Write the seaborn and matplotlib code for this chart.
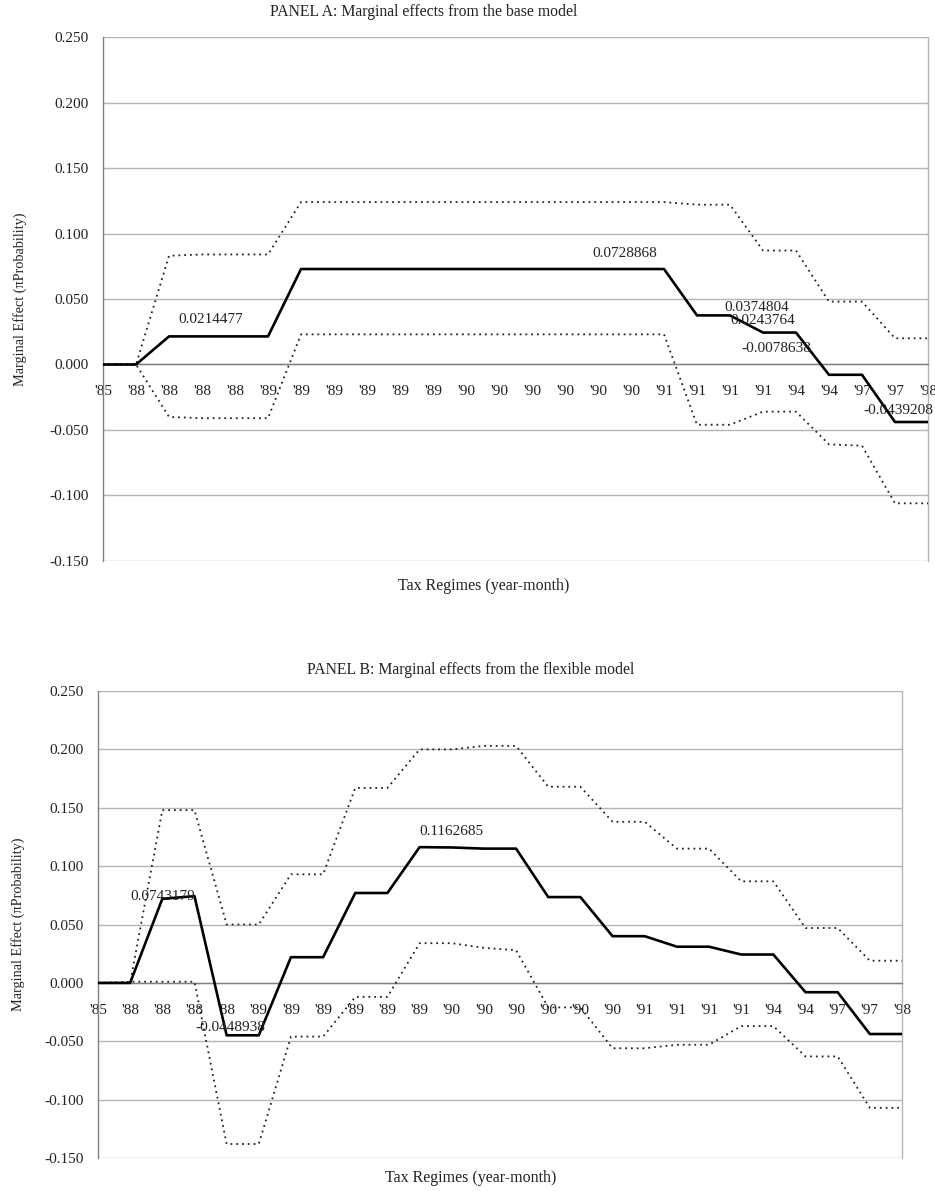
import numpy as np
import pandas as pd
import matplotlib
matplotlib.use("Agg")
import matplotlib.pyplot as plt
import seaborn as sns

sns.set_theme(style="white")
plt.rcParams["font.family"] = ["Liberation Serif", "DejaVu Serif"]

# category labels (tax regimes, year)
regimes = ["'85", "'88", "'88", "'88", "'88", "'89", "'89", "'89", "'89", "'89",
           "'89", "'90", "'90", "'90", "'90", "'90", "'90", "'91", "'91", "'91",
           "'91", "'94", "'94", "'97", "'97", "'98"]

# Panel A: base model
a_effect = [0.0, 0.0, 0.0214477, 0.0214477, 0.0214477, 0.0214477,
            0.0728868, 0.0728868, 0.0728868, 0.0728868, 0.0728868, 0.0728868,
            0.0728868, 0.0728868, 0.0728868, 0.0728868, 0.0728868, 0.0728868,
            0.0374804, 0.0374804, 0.0243764, 0.0243764, -0.0078638, -0.0078638,
            -0.0439208, -0.0439208]
a_upper = [0.0, 0.0, 0.083, 0.084, 0.084, 0.084,
           0.124, 0.124, 0.124, 0.124, 0.124, 0.124,
           0.124, 0.124, 0.124, 0.124, 0.124, 0.124,
           0.122, 0.122, 0.087, 0.087, 0.048, 0.048, 0.020, 0.020]
a_lower = [0.0, 0.0, -0.040, -0.041, -0.041, -0.041,
           0.023, 0.023, 0.023, 0.023, 0.023, 0.023,
           0.023, 0.023, 0.023, 0.023, 0.023, 0.023,
           -0.046, -0.046, -0.036, -0.036, -0.061, -0.062, -0.106, -0.106]

# Panel B: flexible model
b_effect = [0.0, 0.0, 0.072, 0.0743179, -0.0448938, -0.0449,
            0.022, 0.022, 0.077, 0.077, 0.1162685, 0.116,
            0.115, 0.115, 0.0735, 0.0735, 0.040, 0.040,
            0.031, 0.031, 0.0243, 0.0243, -0.008, -0.008, -0.0438, -0.0438]
b_upper = [0.0, 0.0, 0.148, 0.148, 0.050, 0.050,
           0.093, 0.093, 0.167, 0.167, 0.200, 0.200,
           0.203, 0.203, 0.168, 0.168, 0.138, 0.138,
           0.115, 0.115, 0.087, 0.087, 0.047, 0.047, 0.019, 0.019]
b_lower = [0.0, 0.001, 0.001, 0.001, -0.138, -0.138,
           -0.046, -0.046, -0.012, -0.012, 0.034, 0.034,
           0.030, 0.028, -0.021, -0.021, -0.056, -0.056,
           -0.053, -0.053, -0.037, -0.037, -0.063, -0.063, -0.107, -0.107]

# which points carry a data label, and where the label text sits (layout)
a_labelled = [3, 16, 19, 21, 23, 25]
a_label_pos = [(3.25, 0.034), (15.8, 0.085), (19.8, 0.0435), (20.0, 0.0336),
               (20.4, 0.0122), (24.1, -0.035)]
b_labelled = [3, 4, 10]
b_label_pos = [(2.0, 0.074), (4.1, -0.0386), (11.0, 0.130)]

FS = 11
GRID = "#b4b4b4"


def draw_panel(ax, effect, upper, lower, labelled, label_pos):
    df = pd.DataFrame({"x": np.arange(len(regimes)), "effect": effect,
                       "upper": upper, "lower": lower})
    for col in ["upper", "lower"]:
        sns.lineplot(data=df, x="x", y=col, ax=ax, color="#222222",
                     linewidth=1.3, linestyle=(0, (1, 2.2)), zorder=3)
    sns.lineplot(data=df, x="x", y="effect", ax=ax, color="black",
                 linewidth=1.9, zorder=4)

    for idx, (tx, ty) in zip(labelled, label_pos):
        ax.text(tx, ty, f"{effect[idx]:.7f}", ha="center", va="center",
                fontsize=FS, color="#222222", zorder=5)

    ax.set_xlim(0, len(regimes) - 1)
    ax.set_ylim(-0.15, 0.25)
    ax.set_yticks(np.arange(-0.15, 0.2501, 0.05))
    ax.set_yticklabels([f"{v:.3f}" for v in np.arange(-0.15, 0.2501, 0.05)],
                       fontsize=FS)
    ax.set_xticks(np.arange(len(regimes)))
    ax.set_xticklabels(regimes, fontsize=FS)

    ax.yaxis.grid(True, color=GRID, linewidth=1.0)
    ax.set_axisbelow(True)

    ax.spines["bottom"].set_position(("data", 0))
    ax.spines["bottom"].set_color("#808080")
    ax.spines["left"].set_color("#808080")
    ax.spines["right"].set_color(GRID)
    ax.spines["top"].set_visible(False)
    for s in ax.spines.values():
        s.set_linewidth(1.0)

    ax.tick_params(axis="x", direction="in", length=3.6, color="#808080",
                   pad=15, labelcolor="#222222")
    ax.tick_params(axis="y", direction="out", length=3.6, color="#808080",
                   pad=7, labelcolor="#222222")

    ax.set_ylabel("Marginal Effect (πProbability)", fontsize=10.3,
                  color="#222222")
    ax.set_xlabel("Tax Regimes (year-month)", fontsize=11.5, color="#222222")
    ax.xaxis.label.set_va("center")
    ax.yaxis.label.set_va("center")


fig = plt.figure(figsize=(9.35, 11.91), dpi=100)
ax_a = fig.add_axes([0.1102, 0.529, 0.8823, 0.4399])
ax_b = fig.add_axes([0.1048, 0.0277, 0.8599, 0.3921])

draw_panel(ax_a, a_effect, a_upper, a_lower, a_labelled, a_label_pos)
draw_panel(ax_b, b_effect, b_upper, b_lower, b_labelled, b_label_pos)

ax_a.xaxis.set_label_coords(0.462, -0.048)
ax_a.yaxis.set_label_coords(-0.1006, 0.5)
ax_b.xaxis.set_label_coords(0.463, -0.043)
ax_b.yaxis.set_label_coords(-0.0995, 0.5)

fig.text(0.453, 0.990, "PANEL A: Marginal effects from the base model",
         ha="center", va="center", fontsize=11.3, color="#222222")
fig.text(0.503, 0.4374, "PANEL B: Marginal effects from the flexible model",
         ha="center", va="center", fontsize=11.3, color="#222222")

fig.savefig("out.png", dpi=100)
